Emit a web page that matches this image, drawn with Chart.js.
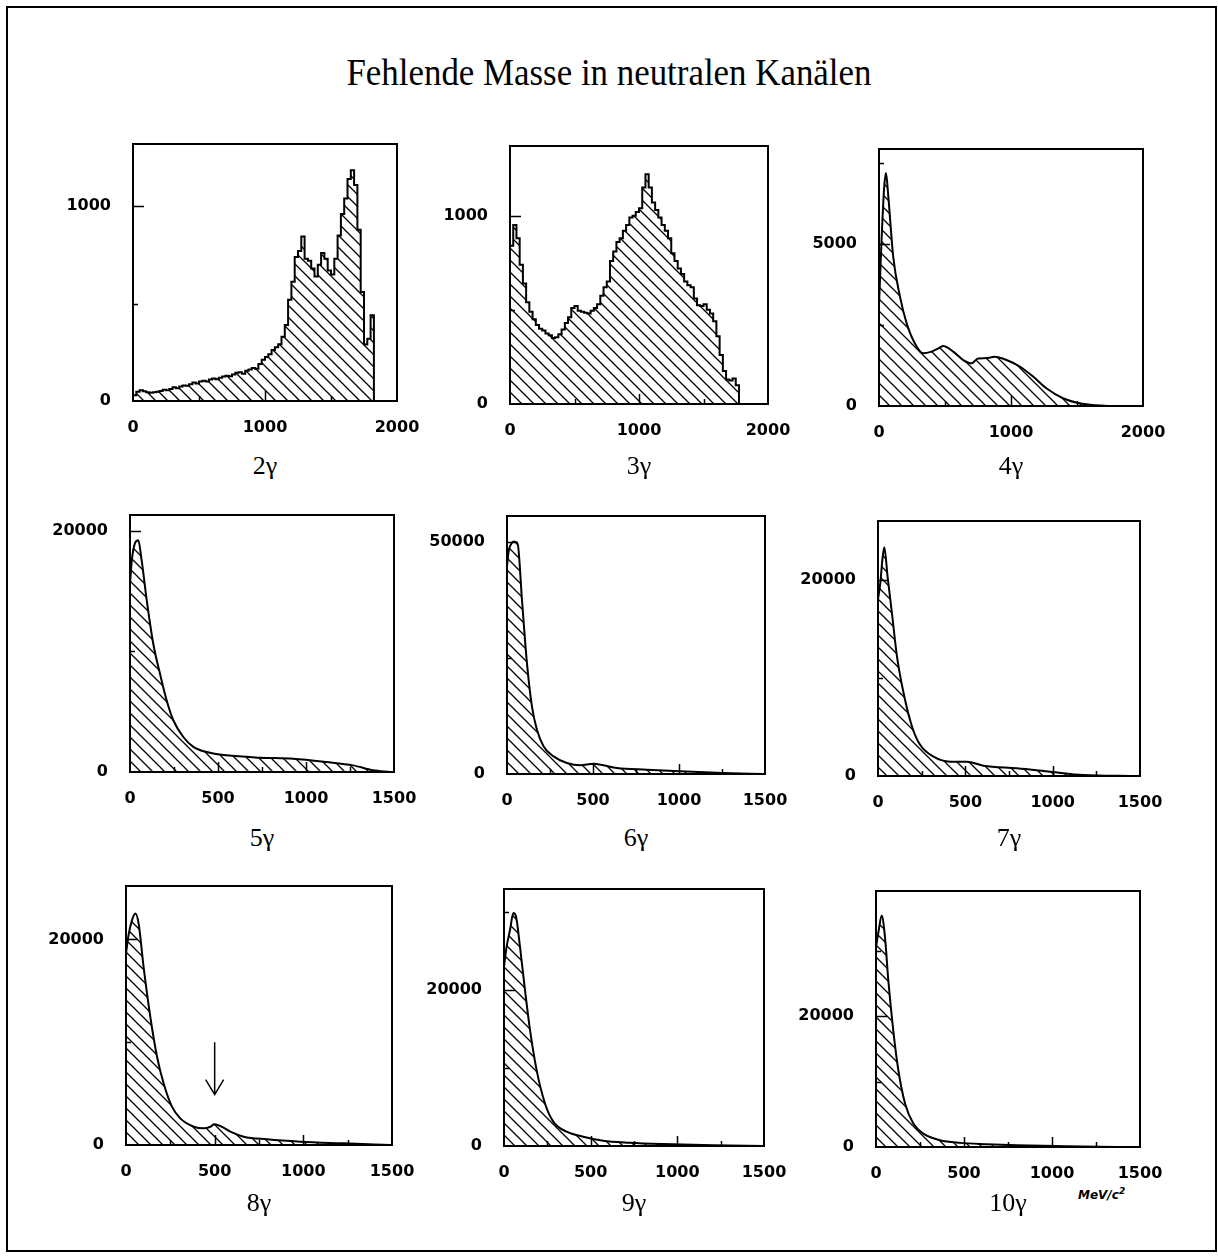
<!DOCTYPE html>
<html>
<head>
<meta charset="utf-8">
<script src="https://cdn.jsdelivr.net/npm/chart.js@4.4.1/dist/chart.umd.min.js"></script>
<style>
  html, body { margin: 0; padding: 0; background: #fff; }
  #page { position: relative; width: 1218px; height: 1257px; overflow: hidden; background: #fff; }
  #border { position: absolute; left: 6px; top: 6px; width: 1207px; height: 1242px; border: 2px solid #000; }
  #title { position: absolute; left: 0; top: 50px; width: 1218px; text-align: center; }
  #title span { display: inline-block; font-family: "Liberation Serif", "Times New Roman", serif; font-size: 38px; line-height: 44px; color: #000; transform-origin: center; }
  canvas { position: absolute; }
  .lab { position: absolute; width: 120px; text-align: center; font-family: "Liberation Serif", "Times New Roman", serif; font-size: 26px; line-height: 26px; color: #000; }
  #unit { position: absolute; left: 1078px; top: 1186px; font-family: "DejaVu Sans", sans-serif; font-size: 12px; font-weight: bold; font-style: italic; color: #000; }
  #unit sup { font-size: 9px; }
</style>
</head>
<body>
<div id="page">
  <div id="border"></div>
  <div id="title"><span id="titleText">Fehlende Masse in neutralen Kanälen</span></div>
  <div id="unit">MeV/c<sup>2</sup></div>
</div>
<script>
// missing mass spectra
// 2 and 3 gamma: histograms with 25 MeV bins starting at 0
const binWidth = 25;
const h2g = [30, 48, 55, 50, 45, 42, 45, 48, 52, 58,
  55, 62, 70, 66, 75, 80, 78, 86, 95, 90,
  100, 104, 100, 110, 115, 112, 120, 126, 130, 127,
  136, 145, 148, 140, 156, 162, 170, 166, 190, 212,
  226, 240, 262, 276, 292, 330, 390, 520, 612, 740,
  770, 845, 730, 720, 680, 640, 700, 760, 730, 670,
  650, 730, 850, 960, 1040, 1140, 1185, 1110, 880, 560,
  290, 320, 440];
const h3g = [840, 950, 880, 740, 640, 540, 490, 450, 420, 400,
  390, 375, 365, 350, 355, 370, 395, 430, 460, 510,
  520, 495, 490, 485, 480, 495, 510, 530, 575, 620,
  650, 760, 810, 860, 880, 920, 950, 990, 1000, 1020,
  1040, 1150, 1220, 1150, 1070, 1030, 990, 950, 920, 880,
  800, 760, 720, 690, 650, 630, 620, 560, 525, 520,
  530, 500, 480, 440, 360, 260, 175, 130, 125, 135,
  100];

// 4..10 gamma: smooth curves, (mass, counts)
const x4g = [0, 20, 40, 53, 70, 108, 159, 209, 271, 334, 398, 440, 486, 562, 638, 701, 751, 814, 877, 966, 1066, 1167, 1268, 1394, 1520, 1621, 1750];
const y4g = [3100, 5200, 6800, 7200, 6500, 4600, 3380, 2560, 1940, 1630, 1680, 1760, 1850, 1680, 1420, 1320, 1470, 1480, 1520, 1420, 1220, 910, 550, 240, 85, 30, 0];

const x5g = [0, 10, 28, 47, 66, 95, 132, 170, 208, 246, 303, 360, 435, 549, 738, 927, 1116, 1268, 1381, 1476];
const y5g = [15600, 17500, 18950, 19200, 17560, 14250, 10650, 8160, 5950, 4290, 2900, 2080, 1660, 1380, 1190, 1100, 830, 550, 140, 0];

const x6g = [0, 10, 25, 39, 62, 87, 116, 145, 174, 213, 271, 348, 426, 503, 561, 639, 813, 1006, 1258, 1490];
const y6g = [44600, 48000, 49500, 50000, 49500, 37460, 23850, 14540, 9520, 5940, 3790, 2360, 1860, 2210, 1860, 1290, 930, 575, 215, 0];

const x7g = [0, 13, 25, 36, 55, 80, 109, 147, 195, 242, 318, 413, 509, 604, 795, 985, 1176, 1462];
const y7g = [18000, 19600, 22000, 23300, 20270, 16540, 12130, 8400, 5020, 3150, 1970, 1460, 1460, 1050, 780, 440, 100, 0];

const x8g = [0, 15, 34, 53, 71, 99, 137, 175, 212, 259, 306, 382, 438, 476, 498, 532, 588, 664, 795, 983, 1227, 1490];
const y8g = [18640, 20500, 21880, 22530, 21560, 17350, 12480, 8590, 6000, 3730, 2590, 1780, 1620, 1780, 2010, 1850, 1300, 810, 550, 320, 160, 0];

const x9g = [0, 15, 35, 54, 69, 92, 121, 150, 188, 236, 284, 361, 457, 572, 726, 918, 1207, 1495];
const y9g = [22990, 25500, 27690, 29830, 29400, 25560, 20000, 14870, 9740, 5470, 3120, 1830, 1190, 680, 425, 250, 85, 0];

const x10g = [0, 15, 32, 51, 70, 98, 127, 165, 212, 269, 364, 477, 629, 799, 1083, 1367];
const y10g = [30530, 33000, 35370, 32060, 25450, 17820, 11720, 6630, 3580, 2050, 1030, 630, 425, 270, 120, 0];

// tick labels
const xLabels2000 = [0, 1000, 2000];
const xLabels1500 = [0, 500, 1000, 1500];

function histPoints(vals) {
    const pts = vals.map((v, i) => ({ x: i * binWidth, y: v }));
    pts.push({ x: vals.length * binWidth, y: 0 });
    return pts;
}

function curvePoints(xs, ys) {
    return xs.map((x, i) => ({ x: x, y: ys[i] }));
}

// panel layout: plot box [left, top, right, bottom] in page pixels
const panels = [
    { label: '2γ', box: [133, 144, 397, 401], pts: histPoints(h2g), stepped: true, xMax: 2000, xLabels: xLabels2000, xStep: 500, yMax: 1320, yLabels: [0, 1000], yStep: 500 },
    { label: '3γ', box: [510, 146, 768, 404], pts: histPoints(h3g), stepped: true, xMax: 2000, xLabels: xLabels2000, xStep: 500, yMax: 1370, yLabels: [0, 1000], yStep: 500 },
    { label: '4γ', box: [879, 149, 1143, 406], pts: curvePoints(x4g, y4g), xMax: 2000, xLabels: xLabels2000, xStep: 500, yMax: 7940, yLabels: [0, 5000], yStep: 2500 },
    { label: '5γ', box: [130, 515, 394, 772], pts: curvePoints(x5g, y5g), xMax: 1500, xLabels: xLabels1500, xStep: 250, yMax: 21300, yLabels: [0, 20000], yStep: 10000 },
    { label: '6γ', box: [507, 516, 765, 774], pts: curvePoints(x6g, y6g), xMax: 1500, xLabels: xLabels1500, xStep: 250, yMax: 55500, yLabels: [0, 50000], yStep: 25000 },
    { label: '7γ', box: [878, 521, 1140, 776], pts: curvePoints(x7g, y7g), xMax: 1500, xLabels: xLabels1500, xStep: 250, yMax: 25960, yLabels: [0, 20000], yStep: 10000 },
    { label: '8γ', box: [126, 886, 392, 1145], pts: curvePoints(x8g, y8g), xMax: 1500, xLabels: xLabels1500, xStep: 250, yMax: 25200, yLabels: [0, 20000], yStep: 10000, arrow: { x: 500, from: 10000, to: 4900 } },
    { label: '9γ', box: [504, 889, 764, 1146], pts: curvePoints(x9g, y9g), xMax: 1500, xLabels: xLabels1500, xStep: 250, yMax: 32900, yLabels: [0, 20000], yStep: 10000 },
    { label: '10γ', box: [876, 891, 1140, 1147], pts: curvePoints(x10g, y10g), xMax: 1500, xLabels: xLabels1500, xStep: 250, yMax: 39100, yLabels: [0, 20000], yStep: 10000 }
];
const labelTops = [453, 453, 453, 825, 825, 825, 1190, 1190, 1190];

// the scales ask for room of their own (half a label plus the tick padding),
// so the pads are kept above that and the plot area lands where it should
const Y_W = 100, X_H = 44, PAD_T = 34, PAD_R = 44;

function makeHatch() {
    const s = 12;
    const c = document.createElement('canvas');
    c.width = s; c.height = s;
    const g = c.getContext('2d');
    g.strokeStyle = '#000';
    g.lineWidth = 1.3;
    g.beginPath();
    g.moveTo(0, 0); g.lineTo(s, s);
    g.moveTo(-s / 2, s / 2); g.lineTo(s / 2, s * 1.5);
    g.moveTo(s / 2, -s / 2); g.lineTo(s * 1.5, s / 2);
    g.stroke();
    return g.createPattern(c, 'repeat');
}
const hatch = makeHatch();

// box, inner tick marks and the arrow
const framePlugin = {
    id: 'frame',
    afterDatasetsDraw(chart, args, opts) {
        const { ctx, chartArea: a } = chart;
        const xs = chart.scales.x, ys = chart.scales.y;
        ctx.save();
        ctx.strokeStyle = '#000';
        ctx.lineWidth = 1.5;
        ctx.beginPath();
        for (let v = opts.yStep; v < opts.yMax; v += opts.yStep) {
            const len = opts.yLabels.includes(v) ? 11 : 5;
            const py = Math.round(ys.getPixelForValue(v)) + 0.5;
            ctx.moveTo(a.left, py); ctx.lineTo(a.left + len, py);
        }
        for (let v = opts.xStep; v < opts.xMax; v += opts.xStep) {
            const len = opts.xLabels.includes(v) ? 10 : 5;
            const px = Math.round(xs.getPixelForValue(v)) + 0.5;
            ctx.moveTo(px, a.bottom); ctx.lineTo(px, a.bottom - len);
        }
        ctx.stroke();
        ctx.lineWidth = 2;
        ctx.strokeRect(a.left, a.top, a.right - a.left, a.bottom - a.top);
        if (opts.arrow) {
            const px = xs.getPixelForValue(opts.arrow.x);
            const p0 = ys.getPixelForValue(opts.arrow.from);
            const p1 = ys.getPixelForValue(opts.arrow.to);
            ctx.lineWidth = 1.5;
            ctx.beginPath();
            ctx.moveTo(px, p0); ctx.lineTo(px, p1);
            ctx.moveTo(px - 9, p1 - 15); ctx.lineTo(px, p1); ctx.lineTo(px + 9, p1 - 15);
            ctx.stroke();
        }
        ctx.restore();
    }
};

const tickFont = { family: '"DejaVu Sans", sans-serif', size: 16, weight: 'bold' };
const page = document.getElementById('page');

panels.forEach((p, i) => {
    const [L, T, R, B] = p.box;
    const cv = document.createElement('canvas');
    cv.width = R - L + Y_W + PAD_R;
    cv.height = B - T + PAD_T + X_H;
    cv.style.left = (L - Y_W) + 'px';
    cv.style.top = (T - PAD_T) + 'px';
    page.appendChild(cv);

    new Chart(cv.getContext('2d'), {
        type: 'line',
        data: {
            datasets: [{
                data: p.pts,
                borderColor: '#000',
                borderWidth: 2,
                backgroundColor: hatch,
                fill: 'origin',
                pointRadius: 0,
                stepped: p.stepped ? 'before' : false,
                cubicInterpolationMode: 'monotone',
                tension: p.stepped ? 0 : 0.4
            }]
        },
        options: {
            responsive: false,
            animation: false,
            devicePixelRatio: 1,
            layout: { padding: { top: PAD_T, right: PAD_R, left: 0, bottom: 0 } },
            plugins: {
                legend: { display: false },
                tooltip: { enabled: false },
                frame: { yStep: p.yStep, yMax: p.yMax, yLabels: p.yLabels, xStep: p.xStep, xMax: p.xMax, xLabels: p.xLabels, arrow: p.arrow }
            },
            scales: {
                x: {
                    type: 'linear', min: 0, max: p.xMax,
                    grid: { display: false, drawTicks: false, tickLength: 0 },
                    border: { display: false },
                    afterBuildTicks: s => { s.ticks = p.xLabels.map(v => ({ value: v })); },
                    afterFit: s => { s.height = X_H; },
                    ticks: { color: '#000', font: tickFont, padding: 17, maxRotation: 0, autoSkip: false, callback: v => String(v) }
                },
                y: {
                    type: 'linear', min: 0, max: p.yMax,
                    grid: { display: false, drawTicks: false, tickLength: 0 },
                    border: { display: false },
                    afterBuildTicks: s => { s.ticks = p.yLabels.map(v => ({ value: v })); },
                    afterFit: s => { s.width = Y_W; },
                    ticks: { color: '#000', font: tickFont, padding: 22, autoSkip: false, callback: v => String(v) }
                }
            }
        },
        plugins: [framePlugin]
    });

    const lab = document.createElement('div');
    lab.className = 'lab';
    lab.textContent = p.label;
    lab.style.left = ((L + R) / 2 - 60) + 'px';
    lab.style.top = labelTops[i] + 'px';
    page.appendChild(lab);
});

// the title in the scan is narrow: fit it to its measured width
const tt = document.getElementById('titleText');
tt.style.transform = 'scaleX(' + (525 / tt.offsetWidth).toFixed(3) + ')';
</script>
</body>
</html>
